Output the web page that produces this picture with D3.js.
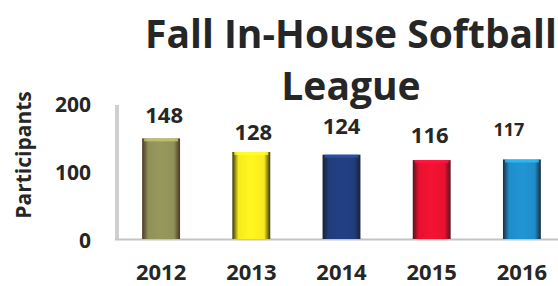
<!DOCTYPE html>
<html><head><meta charset="utf-8">
<script src="https://cdn.jsdelivr.net/npm/d3@7"></script>
<style>
html,body{margin:0;padding:0;background:#fff;}
svg{display:block;font-family:"Open Sans",sans-serif;}
</style></head>
<body>
<svg id="c" width="558" height="286"></svg>
<script>
const titleLines = ["Fall In-House Softball", "League"];
const yAxisTitle = "Participants";
const years = ["2012", "2013", "2014", "2015", "2016"];
const participants = [148, 128, 124, 116, 117];
const yTicks = [0, 100, 200];
const barColors = ["#8f9157", "#f7ea1e", "#203d7d", "#e8112f", "#1f8dca"];
const barEdges = ["#4b3625", "#3d3508", "#1b2232", "#521420", "#1d2c3c"];
// label nudges (layout only)
const labelDx = [3, 2, 0, -2, -13];
const labelDy = [-15, -12, -21, -17, -23];
const labelSize = [22, 22, 22, 22, 18];

const svg = d3.select("#c");
const x = d3.scaleBand().domain(years).range([116, 567]).paddingInner(0.58).paddingOuter(0.29);
const y = d3.scaleLinear().domain([0, 200]).range([239, 103]);

const defs = svg.append("defs");
years.forEach((yr, i) => {
  const g = defs.append("linearGradient").attr("id", "g" + i).attr("x1", 0).attr("x2", 1).attr("y1", 0).attr("y2", 0);
  g.append("stop").attr("offset", "0%").attr("stop-color", barEdges[i]);
  g.append("stop").attr("offset", "16%").attr("stop-color", barColors[i]);
  g.append("stop").attr("offset", "50%").attr("stop-color", d3.color(barColors[i]).brighter(0.15));
  g.append("stop").attr("offset", "84%").attr("stop-color", barColors[i]);
  g.append("stop").attr("offset", "100%").attr("stop-color", barEdges[i]);
});

// title
svg.append("text").attr("x", 351).attr("y", 48).attr("text-anchor", "middle")
  .attr("font-size", 39).attr("font-weight", 700).attr("fill", "#262626").text(titleLines[0]);
svg.append("text").attr("x", 351).attr("y", 100).attr("text-anchor", "middle")
  .attr("font-size", 39).attr("font-weight", 700).attr("fill", "#262626").text(titleLines[1]);

// axis lines
svg.append("line").attr("x1", 117).attr("x2", 117).attr("y1", 105).attr("y2", y(0))
  .attr("stroke", "#cfcfcf").attr("stroke-width", 4);
svg.append("line").attr("x1", 115).attr("x2", 558).attr("y1", y(0) + 0.5).attr("y2", y(0) + 0.5)
  .attr("stroke", "#c4c4c4").attr("stroke-width", 2);

// y ticks via axis
const yAxis = d3.axisLeft(y).tickValues(yTicks).tickSize(0).tickPadding(0);
const ya = svg.append("g").attr("transform", "translate(91,2)").call(yAxis);
ya.select(".domain").remove();
ya.selectAll("text").attr("font-size", 21).attr("font-weight", 700).attr("fill", "#262626")
  .attr("font-family", "Open Sans");

// y title
svg.append("text").attr("transform", "translate(31,155) rotate(-90)").attr("text-anchor", "middle")
  .attr("font-size", 21).attr("font-weight", 700).attr("fill", "#262626").text(yAxisTitle);

// bars
const bars = svg.append("g");
bars.selectAll("rect.bar").data(participants).join("rect").attr("class", "bar")
  .attr("x", (d, i) => x(years[i])).attr("width", x.bandwidth())
  .attr("y", d => y(d)).attr("height", d => y(0) - y(d))
  .attr("fill", (d, i) => `url(#g${i})`);
// top highlight
bars.selectAll("rect.hl").data(participants).join("rect").attr("class", "hl")
  .attr("x", (d, i) => x(years[i]) + 2).attr("width", x.bandwidth() - 4)
  .attr("y", d => y(d)).attr("height", 3)
  .attr("fill", (d, i) => d3.color(barColors[i]).brighter(0.9)).attr("opacity", 0.8);

// value labels
svg.selectAll("text.val").data(participants).join("text").attr("class", "val")
  .attr("x", (d, i) => x(years[i]) + x.bandwidth() / 2 + labelDx[i])
  .attr("y", (d, i) => y(d) + labelDy[i])
  .attr("text-anchor", "middle").attr("font-size", (d, i) => labelSize[i]).attr("font-weight", 700)
  .attr("fill", "#262626").text(d => d);

// x labels via axis
const xAxis = d3.axisBottom(x).tickSize(0).tickPadding(0);
const xa = svg.append("g").attr("transform", "translate(0,264)").call(xAxis);
xa.select(".domain").remove();
xa.selectAll("text").attr("font-size", 22).attr("font-weight", 700).attr("fill", "#262626")
  .attr("font-family", "Open Sans");
</script>
</body></html>
